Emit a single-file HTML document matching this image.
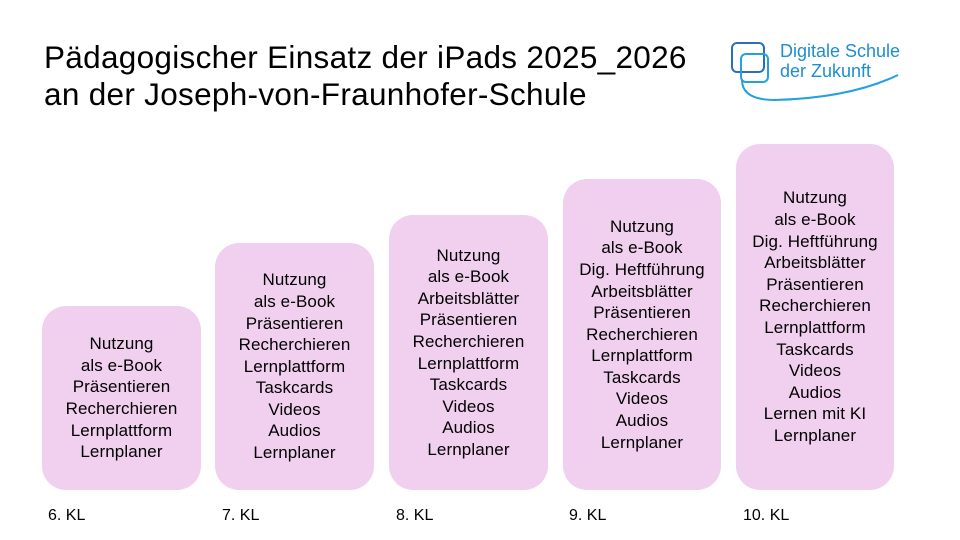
<!DOCTYPE html>
<html><head><meta charset="utf-8"><style>
body{margin:0;width:960px;height:540px;background:#fff;position:relative;overflow:hidden;font-family:"Liberation Sans",sans-serif;color:#000}
.title{position:absolute;left:44px;top:39px;font-size:31.5px;line-height:37px;letter-spacing:0.3px}
.box{position:absolute;background:#f1d0ef;border-radius:24px;display:flex;align-items:center;justify-content:center;text-align:center;font-size:17px;line-height:21.6px;letter-spacing:0.1px}
.kl{position:absolute;top:507px;font-size:16px}
.logo-t{position:absolute;left:780px;font-size:18px;color:#1e8ed0;line-height:19px}
</style></head><body>
<div class="title">Pädagogischer Einsatz der iPads 2025_2026<br>an der Joseph-von-Fraunhofer-Schule</div>
<svg style="position:absolute;left:0;top:0" width="960" height="120">
<rect x="732" y="43" width="32" height="29" rx="5" fill="none" stroke="#2a6fb8" stroke-width="2"/>
<rect x="741" y="54" width="27" height="28" rx="5" fill="none" stroke="#22a0e0" stroke-width="2"/>
<path d="M742 80 Q742 100 775 100 Q850 98 898 75" fill="none" stroke="#22a0e0" stroke-width="2"/>
</svg>
<div class="logo-t" style="top:42px">Digitale Schule</div>
<div class="logo-t" style="top:62px">der Zukunft</div>

<div class="box" style="left:42px;top:306px;width:159px;height:184px"><div>Nutzung<br>als e-Book<br>Präsentieren<br>Recherchieren<br>Lernplattform<br>Lernplaner</div></div>
<div class="box" style="left:215px;top:243px;width:159px;height:247px"><div>Nutzung<br>als e-Book<br>Präsentieren<br>Recherchieren<br>Lernplattform<br>Taskcards<br>Videos<br>Audios<br>Lernplaner</div></div>
<div class="box" style="left:389px;top:215px;width:159px;height:275px"><div>Nutzung<br>als e-Book<br>Arbeitsblätter<br>Präsentieren<br>Recherchieren<br>Lernplattform<br>Taskcards<br>Videos<br>Audios<br>Lernplaner</div></div>
<div class="box" style="left:563px;top:179px;width:158px;height:311px"><div>Nutzung<br>als e-Book<br>Dig. Heftführung<br>Arbeitsblätter<br>Präsentieren<br>Recherchieren<br>Lernplattform<br>Taskcards<br>Videos<br>Audios<br>Lernplaner</div></div>
<div class="box" style="left:736px;top:144px;width:158px;height:346px"><div>Nutzung<br>als e-Book<br>Dig. Heftführung<br>Arbeitsblätter<br>Präsentieren<br>Recherchieren<br>Lernplattform<br>Taskcards<br>Videos<br>Audios<br>Lernen mit KI<br>Lernplaner</div></div>

<div class="kl" style="left:48px">6. KL</div>
<div class="kl" style="left:222px">7. KL</div>
<div class="kl" style="left:396px">8. KL</div>
<div class="kl" style="left:569px">9. KL</div>
<div class="kl" style="left:743px">10. KL</div>
</body></html>
